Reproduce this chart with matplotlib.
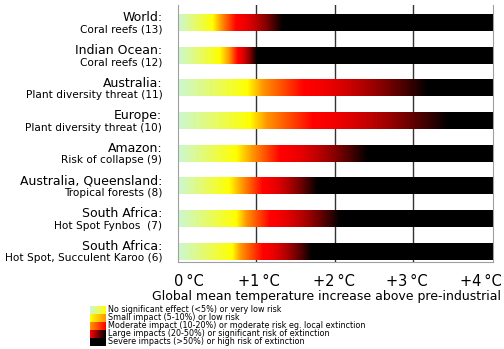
import numpy as np
import matplotlib
matplotlib.use("Agg")
import matplotlib.pyplot as plt
from matplotlib.colors import to_rgb
import matplotlib.transforms as mtransforms

# regions, top to bottom
places = ["World:", "Indian Ocean:", "Australia:", "Europe:", "Amazon:",
          "Australia, Queensland:", "South Africa:", "South Africa:"]
details = ["Coral reefs (13)", "Coral reefs (12)", "Plant diversity threat (11)",
           "Plant diversity threat (10)", "Risk of collapse (9)", "Tropical forests (8)",
           "Hot Spot Fynbos  (7)", "Hot Spot, Succulent Karoo (6)"]

# warming (deg C) at which each impact colour is reached
yellow_at = [0.44, 0.53, 0.88, 0.91, 0.74, 0.65, 0.74, 0.69]
orange_at = [0.55, 0.65, 1.08, 1.13, 0.95, 0.82, 0.87, 0.80]
red_at    = [0.74, 0.76, 1.60, 1.72, 1.30, 1.08, 1.17, 1.08]
black_at  = [1.33, 1.00, 3.18, 3.44, 2.41, 1.77, 2.06, 1.70]

ticks = [0, 1, 2, 3, 4]
tick_labels = ["0\u2009°C", "+1\u2009°C", "+2\u2009°C", "+3\u2009°C", "+4\u2009°C"]

legend_labels = ["No significant effect (<5%) or very low risk",
                 "Small impact (5-10%) or low risk",
                 "Moderate impact (10-20%) or moderate risk eg. local extinction",
                 "Large impacts (20-50%) or significant risk of extinction",
                 "Severe impacts (>50%) or high risk of extinction"]

cols = np.array([to_rgb(c) for c in ["#ccf7d4", "#ffff00", "#ff9500", "#ff0000", "#000000"]])


def bar_colours(xs, stops):
    # piecewise colour ramp; the red->black part darkens late (eased)
    rgb = np.zeros((len(xs), 3))
    for k in range(3):
        rgb[:, k] = np.interp(xs, stops[:4], cols[:4, k])
    t = np.clip((xs - stops[3]) / (stops[4] - stops[3]), 0, 1)
    t = t ** 1.6
    fade = np.where(xs > stops[3], 1 - t, 1.0)
    rgb = rgb * fade[:, None]
    return rgb


xmax = 4.02
fig = plt.figure(figsize=(5.04, 3.49), dpi=100)
ax = fig.add_axes([178/504, 1-262/349, 315/504, 257/349])

h = 0.49
xs = np.linspace(0, xmax, 800)
for i in range(len(places)):
    stops = [0, yellow_at[i], orange_at[i], red_at[i], black_at[i]]
    rgb = bar_colours(xs, stops)
    ax.imshow(rgb[None, :, :], extent=[0, xmax, i + h/2, i - h/2],
              aspect="auto", interpolation="bilinear", zorder=2)

ax.set_xlim(0, xmax)
ax.set_ylim(7.31, -0.55)
for x in [1, 2, 3]:
    ax.axvline(x, color="#333333", lw=1, zorder=1)
ax.set_xticks(ticks)
ax.set_xticklabels([])
ax.tick_params(axis="x", length=0)
ax.set_yticks([])
ax.spines["top"].set_visible(False)
for s in ["left", "right", "bottom"]:
    ax.spines[s].set_color("#a0a0a0")

# tick labels sit a little inside at both ends, as in the original artwork
label_x = [0.14, 1.03, 1.99, 2.92, 3.86]
for lx, lab in zip(label_x, tick_labels):
    ax.text(lx, -0.075, lab, transform=mtransforms.blended_transform_factory(ax.transData, ax.transAxes),
            ha="center", va="center", fontsize=10.5)
ax.text(0.471, -0.135, "Global mean temperature increase above pre-industrial",
        transform=ax.transAxes, ha="center", va="center", fontsize=9)

trans = mtransforms.blended_transform_factory(ax.transAxes, ax.transData)
for i in range(len(places)):
    ax.text(-0.05, i - 0.16, places[i], transform=trans, ha="right", va="center", fontsize=9)
    ax.text(-0.05, i + 0.2, details[i], transform=trans, ha="right", va="center", fontsize=7.6)

# legend swatches (small gradients)
sw = [(0, 1), (1, 2), (2, 3), (3, 4), (4, 4)]
g = np.linspace(0, 1, 50)[:, None]
for j, lab in enumerate(legend_labels):
    yc = 310 + j * 8
    sax = fig.add_axes([90/504, 1-(yc+4)/349, 16/504, 8/349])
    a, b = cols[sw[j][0]], cols[sw[j][1]]
    im = (1 - g) * a + g * b
    sax.imshow(im[None, :, :], aspect="auto", extent=[0, 1, 0, 1])
    sax.axis("off")
    fig.text(108/504, 1 - yc/349, lab, fontsize=5.8, va="center", ha="left")

fig.savefig("out.png", dpi=100)
